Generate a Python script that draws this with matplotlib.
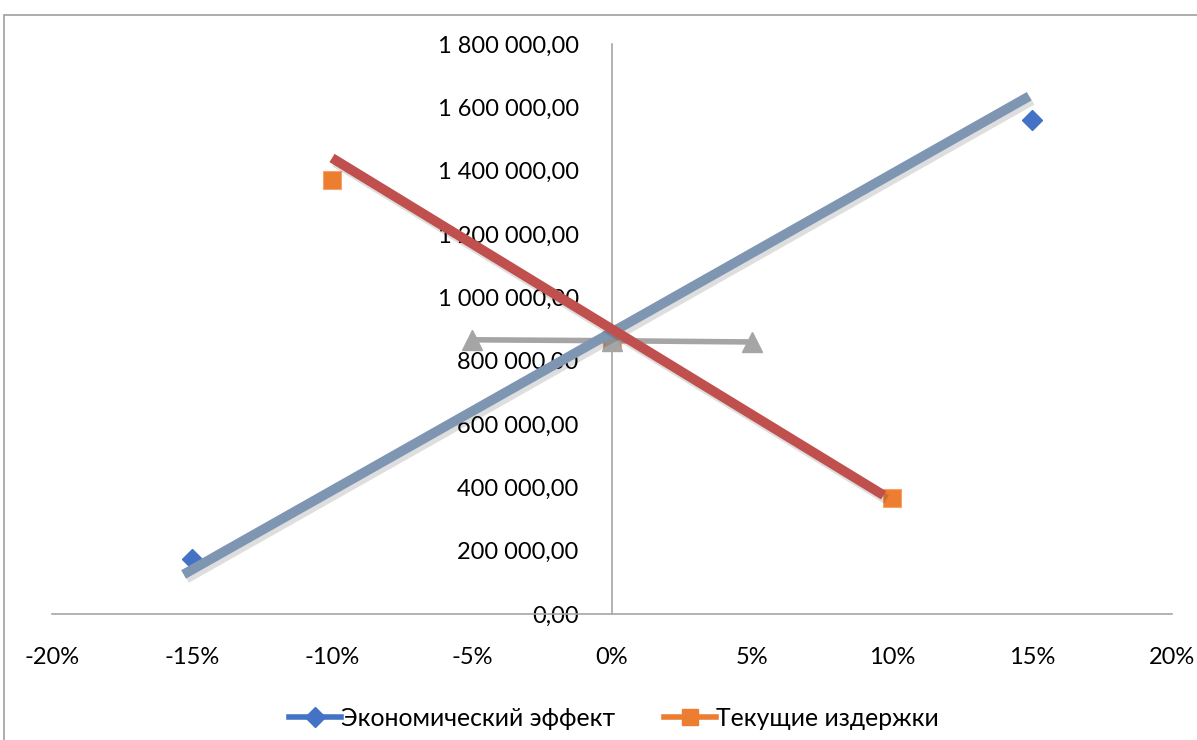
import matplotlib
matplotlib.use("Agg")
import matplotlib.pyplot as plt
import matplotlib.patheffects as pe
from matplotlib.patches import Rectangle
from matplotlib.lines import Line2D
from matplotlib.ticker import FuncFormatter, MultipleLocator

plt.rcParams['font.family'] = ['Lato', 'DejaVu Sans']

# Data
x_econ = [-0.15, 0.0, 0.15]
econ = [175000, 865000, 1560000]
x_cost = [-0.10, 0.0, 0.10]
cost = [1370000, 865000, 365000]
x_third = [-0.05, 0.0, 0.05]
third = [866000, 863000, 859000]

econ_trend_x = [-0.153, 0.149]
econ_trend = [125000, 1635000]
cost_trend_x = [-0.10, 0.097]
cost_trend = [1440000, 375000]

series_names = ["Экономический эффект", "Текущие издержки"]
x_ticks = [-0.20, -0.15, -0.10, -0.05, 0.0, 0.05, 0.10, 0.15, 0.20]

W, H = 1197, 740
fig = plt.figure(figsize=(W / 100, H / 100), dpi=100)

# outer chart frame
fig.add_artist(Rectangle((4 / W, -0.1), 1.2, (H - 15) / H + 0.1, transform=fig.transFigure,
                         fill=False, edgecolor='#A0A0A0', linewidth=1.2))

ax = fig.add_axes([52 / W, (H - 614) / H, (1172 - 52) / W, (614 - 44) / H])
ax.set_xlim(-0.20, 0.20)
ax.set_ylim(0, 1800000)

blue = '#4472C4'
orange = '#ED7D31'
grey = '#A5A5A5'
trend_blue = '#7F96B3'
trend_red = '#C0504D'

ax.plot(x_econ, econ, linestyle='none', marker='D', markersize=10, color=blue, zorder=3)
ax.plot(x_cost, cost, linestyle='none', marker='s', markersize=13, color=orange,
        markeredgecolor='#F4A56F', markeredgewidth=0.8, zorder=3)
ax.plot(x_third, third, color=grey, linewidth=4, marker='^', markersize=15, zorder=4)

shadow = [pe.SimpleLineShadow(offset=(2, -3), shadow_color='black', alpha=0.13),
          pe.Normal()]
ax.plot(econ_trend_x, econ_trend, color=trend_blue, linewidth=7, solid_capstyle='butt',
        zorder=5, path_effects=shadow)
ax.plot(cost_trend_x, cost_trend, color=trend_red, linewidth=7, solid_capstyle='butt',
        zorder=6, path_effects=shadow)

for s in ['top', 'right']:
    ax.spines[s].set_visible(False)
ax.spines['left'].set_position(('data', 0))
ax.spines['left'].set_color('#A6A6A6')
ax.spines['bottom'].set_color('#A6A6A6')
ax.spines['left'].set_linewidth(1.2)
ax.spines['bottom'].set_linewidth(1.2)

ax.yaxis.set_major_locator(MultipleLocator(200000))
ax.yaxis.set_major_formatter(FuncFormatter(
    lambda v, p: f"{v:,.2f}".replace(',', ' ').replace('.', ',')))
ax.set_xticks(x_ticks)
ax.xaxis.set_major_formatter(FuncFormatter(lambda v, p: f"{v * 100:.0f}%"))
ax.tick_params(axis='y', length=0, pad=24, labelsize=17, colors='black')
ax.tick_params(axis='x', length=0, pad=24, labelsize=17, colors='black')

handles = [
    Line2D([], [], color=blue, linewidth=4, marker='D', markersize=10),
    Line2D([], [], color=orange, linewidth=4, marker='s', markersize=12),
]
fig.legend(handles, series_names, loc='center', bbox_to_anchor=(614 / W, 1 - 718 / H),
           ncol=2, frameon=False, fontsize=17.8, handlelength=2.1, handletextpad=0.0,
           columnspacing=2.0)

fig.savefig('out.png', dpi=100)
